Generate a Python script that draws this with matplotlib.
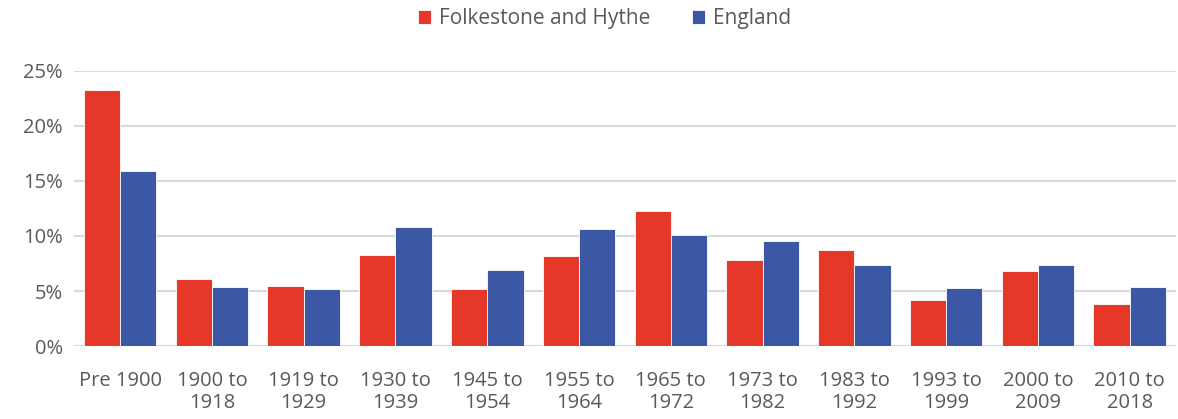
import matplotlib.pyplot as plt
import numpy as np

categories = ["Pre 1900", "1900 to\n1918", "1919 to\n1929", "1930 to\n1939", "1945 to\n1954",
              "1955 to\n1964", "1965 to\n1972", "1973 to\n1982", "1983 to\n1992", "1993 to\n1999",
              "2000 to\n2009", "2010 to\n2018"]
folkestone = [23.3, 6.1, 5.5, 8.3, 5.2, 8.2, 12.3, 7.8, 8.7, 4.2, 6.8, 3.8]
england = [15.9, 5.4, 5.2, 10.8, 6.9, 10.6, 10.1, 9.5, 7.4, 5.3, 7.4, 5.4]

plt.rcParams['font.family'] = ['Open Sans', 'DejaVu Sans']
grey = '#595959'

fig = plt.figure(figsize=(11.78, 4.19), dpi=100)
ax = fig.add_axes([0.063, 0.174, 0.935, 0.657])

x = np.arange(len(categories))
w = 0.395
ax.bar(x - w/2, folkestone, w, color='#E63828', label='Folkestone and Hythe', zorder=3,
       edgecolor='white', linewidth=0.6)
ax.bar(x + w/2, england, w, color='#3C57A4', label='England', zorder=3,
       edgecolor='white', linewidth=0.6)

ax.set_xlim(-0.5, len(categories) - 0.5)
ax.set_ylim(0, 25)
ax.set_yticks(range(0, 26, 5))
ax.set_yticklabels([f"{v}%" for v in range(0, 26, 5)])
ax.set_xticks(x)
ax.set_xticklabels(categories, linespacing=1.15)
ax.tick_params(axis='both', length=0, colors=grey, labelsize=14.5)
ax.tick_params(axis='x', pad=18)
ax.tick_params(axis='y', pad=8)
ax.grid(axis='y', color='#D9D9D9', linewidth=1.5, zorder=0)
for s in ax.spines.values():
    s.set_visible(False)

leg = fig.legend(loc='upper center', bbox_to_anchor=(0.513, 1.025), ncol=2, frameon=False,
                 fontsize=15, handlelength=0.65, handleheight=0.65, columnspacing=2.0,
                 handletextpad=0.35)
for t in leg.get_texts():
    t.set_color(grey)

fig.savefig('out.png', dpi=100)
